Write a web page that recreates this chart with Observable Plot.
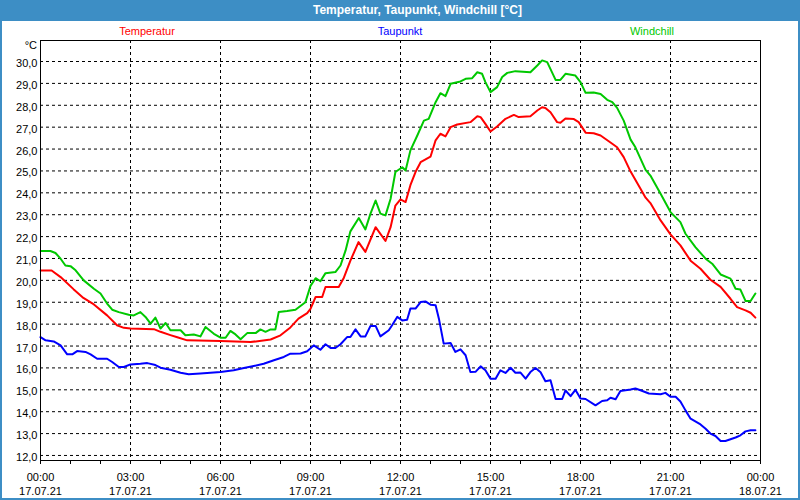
<!DOCTYPE html>
<html><head><meta charset="utf-8">
<script src="https://cdn.jsdelivr.net/npm/d3@7"></script>
<script src="https://cdn.jsdelivr.net/npm/@observablehq/plot@0.6"></script>
<style>
html,body{margin:0;padding:0;background:#fff;}
#wrap{position:relative;width:800px;height:500px;overflow:hidden;background:#fff;font-family:"Liberation Sans",Arial,sans-serif;}
#title{position:absolute;left:0;top:0;width:800px;height:21px;background:#3d8ec5;color:#fff;font-weight:bold;font-size:12px;line-height:21px;}
#title span{position:absolute;left:313px;top:0;}
#border{position:absolute;left:0;top:0;width:796px;height:496px;border:2px solid #3d8ec5;pointer-events:none;}
.leg{position:absolute;top:25px;font-size:11px;line-height:13px;transform:translateX(-50%);white-space:nowrap;}
#unit{position:absolute;right:763px;top:39px;font-size:11px;line-height:13px;}
#chart{position:absolute;left:0;top:20px;}
</style></head>
<body>
<div id="wrap">
  <div id="title"><span>Temperatur, Taupunkt, Windchill [°C]</span></div>
  <div class="leg" id="leg0"></div>
  <div class="leg" id="leg1"></div>
  <div class="leg" id="leg2"></div>
  <div id="unit">°C</div>
  <div id="chart"></div>
  <div id="border"></div>
</div>
<script>
const seriesNames = ["Temperatur", "Taupunkt", "Windchill"];
const seriesColors = ["#ff0000", "#0000ff", "#00c800"];
const legendCenters = [147, 400, 652];

const xTickHours = [0, 3, 6, 9, 12, 15, 18, 21, 24];
const xTickTimes = ["00:00","03:00","06:00","09:00","12:00","15:00","18:00","21:00","00:00"];
const xTickDates = ["17.07.21","17.07.21","17.07.21","17.07.21","17.07.21","17.07.21","17.07.21","17.07.21","18.07.21"];
const yTicks = [12,13,14,15,16,17,18,19,20,21,22,23,24,25,26,27,28,29,30];

// [hour of day, value °C]
const temperatur = [
[0,20.45],[0.37,20.45],[0.67,20.15],[1.1,19.6],[1.43,19.2],[1.78,18.9],[2.22,18.4],[2.55,17.95],[2.78,17.83],[3.0,17.8],
[3.78,17.77],[4.0,17.65],[4.33,17.5],[4.56,17.4],[4.89,17.26],[6.0,17.23],[7.0,17.18],[7.67,17.3],[8.0,17.49],[8.33,17.85],
[8.6,18.25],[8.89,18.5],[9.0,18.7],[9.17,19.24],[9.39,19.24],[9.5,19.7],[9.94,19.7],[10.1,20.08],[10.33,20.9],[10.6,21.75],
[10.83,21.3],[11.17,22.43],[11.5,21.8],[11.67,22.43],[11.83,23.42],[12.0,23.7],[12.17,23.58],[12.33,24.35],[12.5,24.95],[12.67,25.4],
[13.0,25.65],[13.17,26.4],[13.33,26.7],[13.5,26.58],[13.67,27.0],[13.89,27.12],[14.33,27.23],[14.56,27.5],[14.67,27.46],[14.83,27.15],
[15.0,26.8],[15.22,27.03],[15.5,27.38],[15.78,27.56],[15.94,27.46],[16.33,27.5],[16.56,27.76],[16.72,27.91],[16.83,27.88],[17.0,27.68],
[17.22,27.23],[17.33,27.2],[17.5,27.4],[17.78,27.37],[17.94,27.23],[18.17,26.75],[18.44,26.72],[18.67,26.62],[19.0,26.3],[19.22,26.08],
[19.44,25.63],[19.67,24.97],[20.0,24.19],[20.17,23.78],[20.33,23.53],[20.67,22.74],[21.0,22.1],[21.33,21.6],[21.67,20.9],[22.0,20.53],
[22.33,20.03],[22.67,19.7],[23.0,19.16],[23.22,18.78],[23.5,18.63],[23.67,18.52],[23.83,18.3]
];
const taupunkt = [
[0,17.41],[0.17,17.26],[0.44,17.21],[0.67,17.03],[0.89,16.62],[1.06,16.62],[1.22,16.77],[1.5,16.73],[1.67,16.62],[1.89,16.42],
[2.22,16.42],[2.39,16.27],[2.61,16.04],[2.78,16.04],[3.0,16.16],[3.33,16.19],[3.56,16.22],[3.83,16.13],[4.0,16.01],[4.33,15.92],
[4.67,15.78],[4.94,15.71],[5.33,15.74],[6.0,15.81],[6.44,15.89],[6.78,16.0],[7.11,16.09],[7.44,16.19],[7.78,16.35],[8.11,16.5],
[8.33,16.65],[8.67,16.66],[8.89,16.76],[9.11,17.03],[9.33,16.83],[9.5,17.08],[9.67,16.91],[9.83,16.91],[10.0,17.08],[10.22,17.41],
[10.33,17.41],[10.5,17.76],[10.67,17.44],[10.83,17.44],[11.0,17.92],[11.17,17.92],[11.33,17.44],[11.61,17.72],[11.72,17.95],[11.89,18.33],
[12.06,18.17],[12.22,18.2],[12.33,18.71],[12.5,18.71],[12.67,19.01],[12.83,19.04],[13.0,18.89],[13.17,18.86],[13.28,18.25],[13.44,17.11],
[13.67,17.14],[13.83,16.73],[14.0,16.85],[14.17,16.58],[14.33,15.81],[14.5,15.82],[14.67,16.07],[14.83,15.89],[15.0,15.51],[15.17,15.51],
[15.33,15.89],[15.5,15.77],[15.67,16.01],[15.83,15.78],[16.0,15.79],[16.17,15.51],[16.33,15.81],[16.5,16.0],[16.67,15.8],[16.83,15.39],
[17.0,15.44],[17.17,14.58],[17.39,14.58],[17.5,14.97],[17.67,14.71],[17.83,15.0],[18.0,14.6],[18.17,14.58],[18.5,14.29],[18.72,14.49],
[18.89,14.52],[19.0,14.64],[19.17,14.57],[19.33,14.95],[19.67,15.01],[19.83,15.06],[20.0,14.98],[20.28,14.83],[20.67,14.8],[20.83,14.86],
[21.0,14.68],[21.17,14.68],[21.33,14.47],[21.5,14.06],[21.67,13.68],[22.0,13.42],[22.17,13.22],[22.33,13.0],[22.5,12.89],[22.67,12.66],
[22.83,12.66],[23.0,12.74],[23.17,12.82],[23.33,12.92],[23.5,13.1],[23.67,13.15],[23.83,13.15]
];
const windchill = [
[0,21.34],[0.33,21.34],[0.5,21.25],[0.67,20.99],[0.83,20.68],[1.0,20.65],[1.17,20.46],[1.44,20.0],[1.78,19.62],[2.0,19.4],
[2.22,18.94],[2.39,18.66],[2.61,18.55],[2.94,18.43],[3.11,18.4],[3.33,18.55],[3.5,18.33],[3.67,18.02],[3.83,18.3],[4.0,17.8],
[4.17,18.05],[4.33,17.72],[4.67,17.72],[4.83,17.49],[5.11,17.53],[5.33,17.44],[5.5,17.87],[5.78,17.56],[6.0,17.38],[6.17,17.38],
[6.33,17.69],[6.5,17.53],[6.67,17.31],[6.89,17.59],[7.17,17.59],[7.33,17.76],[7.5,17.65],[7.67,17.76],[7.83,17.76],[7.94,18.55],
[8.22,18.6],[8.5,18.66],[8.83,19.0],[9.0,19.75],[9.17,20.1],[9.33,19.96],[9.5,20.33],[9.83,20.38],[10.0,20.68],[10.17,21.37],
[10.33,22.24],[10.61,22.85],[10.83,22.33],[11.0,23.05],[11.17,23.65],[11.33,23.05],[11.5,22.97],[11.67,23.73],[11.83,24.95],[12.06,25.17],
[12.17,25.02],[12.33,25.94],[12.56,26.62],[12.78,27.3],[12.94,27.38],[13.17,28.14],[13.33,28.55],[13.5,28.42],[13.67,28.98],[14.0,29.09],
[14.17,29.21],[14.39,29.24],[14.56,29.51],[14.72,29.44],[14.83,29.06],[15.0,28.6],[15.22,28.83],[15.39,29.29],[15.56,29.48],[15.83,29.56],
[16.33,29.51],[16.56,29.82],[16.72,30.05],[16.89,29.97],[17.17,29.16],[17.33,29.16],[17.5,29.44],[17.83,29.36],[18.0,29.06],[18.17,28.57],
[18.44,28.58],[18.67,28.52],[18.89,28.25],[19.06,28.14],[19.22,27.88],[19.44,27.3],[19.67,26.43],[19.83,26.08],[20.17,25.05],[20.33,24.79],
[20.67,23.96],[21.0,23.12],[21.33,22.66],[21.5,22.13],[21.83,21.52],[22.17,20.99],[22.39,20.76],[22.67,20.27],[23.0,20.08],[23.17,19.62],
[23.33,19.58],[23.5,19.06],[23.67,19.06],[23.83,19.4]
];

const allSeries = [temperatur, taupunkt, windchill];
seriesNames.forEach((n, i) => {
  const el = document.getElementById("leg" + i);
  el.textContent = n;
  el.style.color = seriesColors[i];
  el.style.left = legendCenters[i] + "px";
});

const xLabels = xTickHours.map((h, i) => ({h, label: xTickTimes[i] + "\n" + xTickDates[i]}));

const chart = Plot.plot({
  width: 800,
  height: 480,
  marginLeft: 40,
  marginRight: 40,
  marginTop: 20,
  marginBottom: 40,
  style: {fontFamily: "Liberation Sans, Arial, sans-serif", fontSize: "11px", background: "transparent", color: "black"},
  x: {domain: [0, 24], axis: null},
  y: {domain: [11.77, 30.96], axis: null},
  marks: [
    Plot.gridY(yTicks, {stroke: "black", strokeOpacity: 1, strokeDasharray: "3,3"}),
    Plot.gridX(xTickHours, {stroke: "black", strokeOpacity: 1, strokeDasharray: "3,3"}),
    ...allSeries.map((s, i) => Plot.line(s, {x: d => d[0], y: d => d[1], stroke: seriesColors[i], strokeWidth: 2})),
    Plot.frame({stroke: "black"}),
    Plot.axisY(yTicks, {tickSize: 0, tickPadding: 3, dy: 2, label: null, tickFormat: d => d.toFixed(1).replace(".", ",")}),
    Plot.axisX(d3.range(0, 25), {tickSize: 4, label: null, tickFormat: () => ""}),
    Plot.text(xLabels, {x: "h", text: "label", frameAnchor: "bottom", lineAnchor: "top", dy: 11, lineHeight: 1.27, fill: "black"})
  ]
});
document.getElementById("chart").appendChild(chart);
</script>
</body></html>
